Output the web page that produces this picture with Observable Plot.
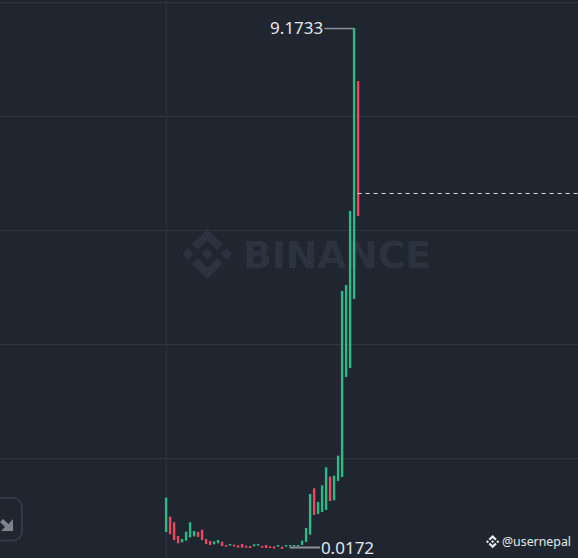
<!DOCTYPE html>
<html>
<head>
<meta charset="utf-8">
<script src="https://cdn.jsdelivr.net/npm/d3@7"></script>
<script src="https://cdn.jsdelivr.net/npm/@observablehq/plot@0.6"></script>
<style>
html,body{margin:0;padding:0;background:#1f2630;overflow:hidden}
#wrap{position:relative;width:578px;height:558px;overflow:hidden}
#under{position:absolute;left:0;top:0}
#chart{position:absolute;left:0;top:0}
#chart svg{background:transparent;display:block}
</style>
</head>
<body>
<div id="wrap">
<svg id="under" width="578" height="558" viewBox="0 0 578 558">
  <defs><path id="bnb" d="M38.73 53.2L63.3 28.63 87.89 53.22l14.3-14.3L63.3 0 24.43 38.9l14.3 14.3zM0 63.31l14.3-14.3 14.3 14.3-14.3 14.3zM38.73 73.41L63.3 97.98l24.59-24.59 14.31 14.29-38.9 38.93-38.87-38.88zm59.28-10.1l14.3-14.3 14.3 14.3-14.3 14.3zM77.81 63.3L63.3 48.78 52.57 59.51l-1.24 1.23-2.54 2.55 14.51 14.51L77.8 63.3z"/></defs>
  <use href="#bnb" fill="#2c323f" transform="translate(182.3 229) scale(0.395)"/>
  <text x="243" y="267.500" font-family="DejaVu Sans" font-weight="700" font-size="37" fill="#2c323f" textLength="188" lengthAdjust="spacingAndGlyphs">BINANCE</text>
  <rect x="-21" y="498" width="43" height="42.5" rx="9" fill="none" stroke="#333a47" stroke-width="2"/>
  <path d="M13 519V531H1L5 527 0 522 3 519 8.500 524Z" fill="#7d838e"/>
  <use href="#bnb" fill="#eef0f3" transform="translate(486 535) scale(0.105)"/>
  <text x="502" y="545.500" font-family="Noto Sans" font-size="12.500" fill="#e6e8eb" textLength="69" lengthAdjust="spacingAndGlyphs">@usernepal</text>
</svg>
<div id="chart"></div>
</div>
<script>
// candle open / close, oldest to newest
const candleOpen = [0.316,0.586,0.486,0.246,0.135,0.164,0.223,0.240,0.316,0.357,0.193,0.158,0.100,0.117,0.146,0.088,0.076,0.094,0.082,0.105,0.076,0.070,0.064,0.076,0.070,0.088,0.064,0.064,0.059,0.059,0.059,0.064,0.064,0.064,0.088,0.141,0.269,1.084,0.633,0.668,0.703,1.289,0.873,1.213,1.283,3.040,3.198,4.411,8.242];
const candleClose = [0.920,0.275,0.176,0.117,0.193,0.322,0.486,0.334,0.228,0.176,0.105,0.088,0.152,0.176,0.070,0.059,0.105,0.059,0.041,0.041,0.041,0.035,0.100,0.105,0.041,0.035,0.035,0.023,0.088,0.018,0.088,0.088,0.088,0.088,0.164,0.387,0.984,0.615,0.844,1.136,1.453,0.861,1.306,1.658,4.552,4.657,5.958,9.1733,5.870];
const gridPrices = [1.617,3.620,5.624,7.627,9.631];
const lastPrice = 6.274;
const highPrice = 9.1733, highLabel = "9.1733", highIndex = 47;
const lowPrice = 0.0172, lowLabel = "0.0172", lowIndex = 31;

const candles = candleOpen.map((o,i)=>({i,o,c:candleClose[i]}));
const xDomain = [-41.4,103.1], yDomain = [-0.141,9.666];
const green = "#2bbb84", red = "#f0465f";
const labelColor = "#e4e7eb", connector = "#8b9099";
const labelFont = "Noto Sans";

const plot = Plot.plot({
  width:578,height:558,margin:0,
  x:{type:"linear",domain:xDomain,range:[0,578],axis:null},
  y:{type:"linear",domain:yDomain,range:[558,0],axis:null},
  style:{background:"transparent"},
  marks:[
    Plot.ruleY(gridPrices,{stroke:"#30363f",strokeWidth:1}),
    Plot.ruleX([0],{stroke:"#30363f",strokeWidth:1}),
    Plot.ruleX(candles,{x:"i",y1:"o",y2:"c",strokeWidth:2.4,stroke:d=>d.c>=d.o?green:red}),
    Plot.ruleY([lastPrice],{x1:48,x2:xDomain[1],stroke:"#d8dbe0",strokeWidth:1,strokeDasharray:"4,4"}),
    Plot.ruleY([highPrice],{x1:39.7,x2:highIndex,stroke:connector,strokeWidth:1.5}),
    Plot.text([highLabel],{x:39.3,y:highPrice,text:d=>d,textAnchor:"end",fill:labelColor,fontSize:17,fontFamily:labelFont}),
    Plot.ruleY([lowPrice],{x1:lowIndex,x2:38.6,dy:-2,stroke:connector,strokeWidth:2}),
    Plot.text([lowLabel],{x:38.7,y:lowPrice,dy:-1,text:d=>d,textAnchor:"start",fill:labelColor,fontSize:17,fontFamily:labelFont})
  ]
});
document.getElementById("chart").appendChild(plot);
</script>
</body>
</html>
